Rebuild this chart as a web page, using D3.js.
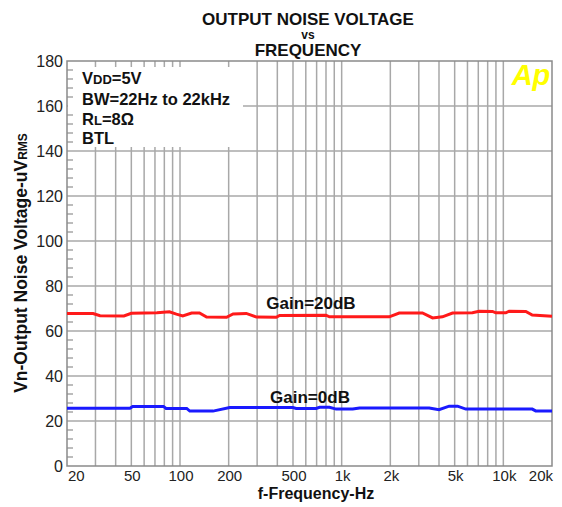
<!DOCTYPE html>
<html><head><meta charset="utf-8">
<script src="https://cdn.jsdelivr.net/npm/d3@7"></script>
<style>
html,body{margin:0;padding:0;background:#fff;}
svg{display:block;font-family:"Liberation Sans",Arial,sans-serif;}
</style></head>
<body><svg id="c" width="562" height="507"></svg>
<script>
// ---- data ----
const redFreq = [20, 29, 32, 45, 50, 72, 86, 95, 104, 118, 132, 146, 194, 213, 257, 297, 394, 413, 800, 840, 1970, 2270, 3160, 3650, 4200, 4850, 6440, 7080, 8570, 8980, 10360, 10860, 13770, 15100, 20000];
const redVal  = [67.8, 67.8, 66.8, 66.7, 67.9, 68.1, 68.5, 67.5, 66.7, 68.0, 68.0, 66.2, 66.1, 67.6, 67.8, 66.2, 66.1, 66.9, 67.0, 66.3, 66.3, 68.0, 68.0, 65.8, 66.3, 68.0, 68.1, 68.8, 68.7, 68.1, 68.1, 68.8, 68.7, 67.1, 66.6];
const blueFreq = [20, 49, 51, 79, 82, 110, 115, 160, 203, 499, 523, 695, 730, 840, 925, 1170, 1290, 3480, 4000, 4620, 5210, 5860, 15100, 15850, 20000];
const blueVal  = [25.7, 25.7, 26.5, 26.5, 25.6, 25.6, 24.4, 24.4, 26.0, 26.0, 25.6, 25.6, 26.1, 26.1, 25.3, 25.3, 25.8, 25.8, 25.0, 26.6, 26.6, 25.3, 25.3, 24.5, 24.5];
const xTickVals = [20, 50, 100, 200, 500, 1000, 2000, 5000, 10000, 20000];
const xTickLabels = ["20", "50", "100", "200", "500", "1k", "2k", "5k", "10k", "20k"];
const yTickVals = [0, 20, 40, 60, 80, 100, 120, 140, 160, 180];
const seriesNames = ["Gain=20dB", "Gain=0dB"];

// ---- layout ----
const L = 67, R = 552, T = 61, B = 466;
const svg = d3.select("#c");
const x = d3.scaleLog().domain([20, 20000]).range([L, R]);
const y = d3.scaleLinear().domain([0, 180]).range([B, T]);

svg.append("rect").attr("width", 562).attr("height", 507).attr("fill", "#fff");

const gridCol = "#a8a8a8";
// vertical grid lines (1..9 per decade)
const vGrid = [];
for (let d = 10; d <= 10000; d *= 10) for (let m = 1; m <= 9; m++) { const f = d * m; if (f > 20 && f < 20000) vGrid.push(f); }
svg.append("g").selectAll("line").data(vGrid).join("line")
  .attr("x1", d => x(d)).attr("x2", d => x(d)).attr("y1", T).attr("y2", B)
  .attr("stroke", gridCol).attr("stroke-width", 1.5);
// horizontal grid lines
svg.append("g").selectAll("line").data(yTickVals.filter(v => v > 0 && v < 180)).join("line")
  .attr("x1", L).attr("x2", R).attr("y1", d => y(d)).attr("y2", d => y(d))
  .attr("stroke", gridCol).attr("stroke-width", 1.5);

// condition box (white)
svg.append("rect").attr("x", L + 1).attr("y", 67).attr("width", 243 - L - 1).attr("height", 147 - 67).attr("fill", "#fff");

// minor ticks on left axis
const minor = d3.range(0, 181, 4).filter(v => v % 20 !== 0);
svg.append("g").selectAll("line").data(minor).join("line")
  .attr("x1", L).attr("x2", L + 6).attr("y1", d => y(d)).attr("y2", d => y(d))
  .attr("stroke", "#909090").attr("stroke-width", 1.2);

// border
svg.append("rect").attr("x", L).attr("y", T).attr("width", R - L).attr("height", B - T)
  .attr("fill", "none").attr("stroke", "#8a8a8a").attr("stroke-width", 1.5);

// lines
const line = d3.line().x(d => x(d[0])).y(d => y(d[1]));
svg.append("path").datum(redFreq.map((f, i) => [f, redVal[i]]))
  .attr("d", line).attr("fill", "none").attr("stroke", "#ff1a1a").attr("stroke-width", 3);
svg.append("path").datum(blueFreq.map((f, i) => [f, blueVal[i]]))
  .attr("d", line).attr("fill", "none").attr("stroke", "#1a1aff").attr("stroke-width", 3);

// Ap logo
svg.append("text").attr("x", 531).attr("y", 85).attr("text-anchor", "middle")
  .attr("font-size", 29).attr("font-weight", "bold").attr("font-style", "italic")
  .attr("fill", "#ffff00").text("Ap");

// y tick labels
svg.append("g").selectAll("text").data(yTickVals).join("text")
  .attr("x", 63).attr("y", d => y(d)).attr("dy", "0.36em").attr("text-anchor", "end")
  .attr("font-size", 16).attr("fill", "#222").text(d => d);

// x tick labels
svg.append("g").selectAll("text").data(xTickVals).join("text")
  .attr("x", (d, i) => i === 0 ? L + 1 : (i === xTickVals.length - 1 ? R + 1 : x(d) + 1))
  .attr("y", 481)
  .attr("text-anchor", (d, i) => i === 0 ? "start" : (i === xTickVals.length - 1 ? "end" : "middle"))
  .attr("font-size", 15).attr("fill", "#222").text((d, i) => xTickLabels[i]);

// titles
const tcx = 308;
svg.append("text").attr("x", tcx).attr("y", 25).attr("text-anchor", "middle")
  .attr("font-size", 17).attr("font-weight", "bold").attr("fill", "#111").text("OUTPUT NOISE VOLTAGE");
svg.append("text").attr("x", tcx).attr("y", 39).attr("text-anchor", "middle")
  .attr("font-size", 12).attr("font-weight", "bold").attr("fill", "#111").text("vs");
svg.append("text").attr("x", tcx).attr("y", 56).attr("text-anchor", "middle")
  .attr("font-size", 17).attr("font-weight", "bold").attr("fill", "#111").text("FREQUENCY");

svg.append("text").attr("x", 316).attr("y", 499).attr("text-anchor", "middle")
  .attr("font-size", 16).attr("font-weight", "bold").attr("fill", "#111").text("f-Frequency-Hz");

const yt = svg.append("text").attr("transform", "translate(27,263) rotate(-90)").attr("text-anchor", "middle")
  .attr("font-size", 17.5).attr("font-weight", "bold").attr("fill", "#111");
yt.append("tspan").text("Vn-Output Noise Voltage-uV");
yt.append("tspan").attr("font-size", 12).text("RMS");

// conditions text
const cond = svg.append("g").attr("font-size", 16.5).attr("font-weight", "bold").attr("fill", "#111");
const t1 = cond.append("text").attr("x", 82).attr("y", 84);
t1.append("tspan").text("V"); t1.append("tspan").attr("font-size", 13).text("DD"); t1.append("tspan").text("=5V");
cond.append("text").attr("x", 82).attr("y", 105).text("BW=22Hz to 22kHz");
const t3 = cond.append("text").attr("x", 82).attr("y", 125);
t3.append("tspan").text("R"); t3.append("tspan").attr("font-size", 13).text("L"); t3.append("tspan").text("=8Ω");
cond.append("text").attr("x", 82).attr("y", 144).text("BTL");

// series labels
svg.append("text").attr("x", 311).attr("y", 309).attr("text-anchor", "middle")
  .attr("font-size", 17).attr("font-weight", "bold").attr("fill", "#111").text(seriesNames[0]);
svg.append("text").attr("x", 310).attr("y", 403).attr("text-anchor", "middle")
  .attr("font-size", 17).attr("font-weight", "bold").attr("fill", "#111").text(seriesNames[1]);
</script></body></html>
